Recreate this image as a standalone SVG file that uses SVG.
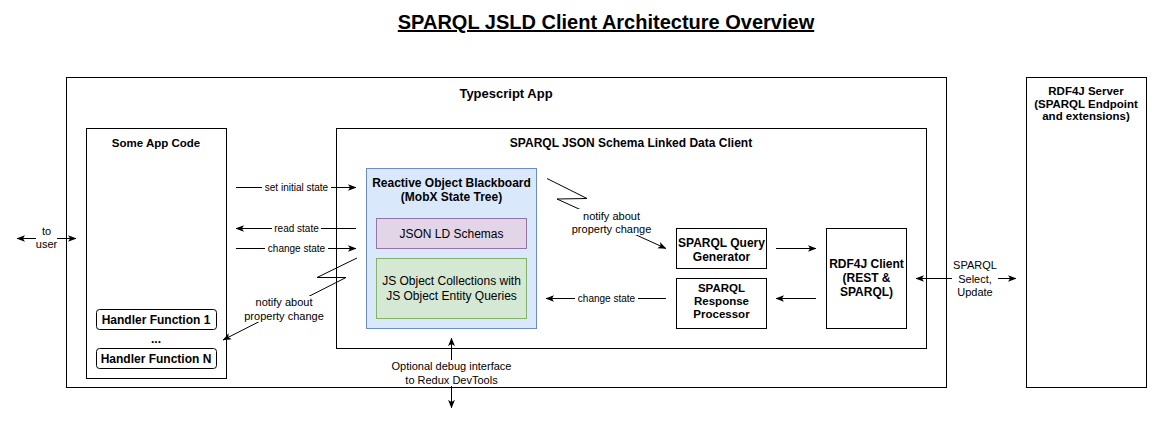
<svg xmlns="http://www.w3.org/2000/svg" width="1155" height="426" viewBox="0 0 1155 426">
<style>
text{font-family:"Liberation Sans",Arial,sans-serif;fill:#000;text-anchor:middle}
.b{font-weight:bold}
.box{fill:#fff;stroke:#000;stroke-width:1}
.ln{fill:none;stroke:#000;stroke-width:1}
.lb{fill:#fff;stroke:none}
.s10{font-size:10px}
.s11{font-size:11px}
.s115{font-size:11.5px}
.s12{font-size:12px}
</style>
<defs>
<marker id="ar" viewBox="0 0 10 10" refX="9.5" refY="5" markerWidth="8.5" markerHeight="8.5" markerUnits="userSpaceOnUse" orient="auto-start-reverse">
<path d="M0,1 L10,5 L0,9 L2.5,5 z" fill="#000"/>
</marker>
</defs>
<rect width="1155" height="426" fill="#fff"/>
<text x="606" y="29" class="b" style="font-size:20px;text-decoration:underline">SPARQL JSLD Client Architecture Overview</text>

<g id="typescript-app">
<rect class="box" x="66.5" y="77.5" width="880" height="310"/>
<text x="506" y="98" class="b" style="font-size:13px">Typescript App</text>
</g>
<g id="rdf4j-server">
<rect class="box" x="1026.5" y="77.5" width="120" height="310"/>
<text x="1086" y="95" class="b s115">RDF4J Server</text>
<text x="1086" y="107.5" class="b s115">(SPARQL Endpoint</text>
<text x="1086" y="120" class="b s115">and extensions)</text>
</g>
<g id="some-app-code">
<rect class="box" x="86.5" y="128.5" width="140" height="250"/>
<text x="156" y="146.5" class="b s115">Some App Code</text>
</g>
<g id="handler-1">
<rect class="box" x="96.5" y="309.5" width="120" height="20" rx="3"/>
<text x="156" y="323.5" class="b s12">Handler Function 1</text>
</g>
<g id="ellipsis">
<text x="156" y="343" class="b s12">...</text>
</g>
<g id="handler-n">
<rect class="box" x="96.5" y="348.5" width="120" height="20" rx="3"/>
<text x="156" y="362.5" class="b s12">Handler Function N</text>
</g>
<g id="sparql-client">
<rect class="box" x="336.5" y="128.5" width="590" height="220"/>
<text x="631" y="146.5" class="b s12">SPARQL JSON Schema Linked Data Client</text>
</g>
<g id="blackboard">
<rect x="366.5" y="168.5" width="170" height="160" fill="#dae8fc" stroke="#6c8ebf"/>
<text x="451.5" y="186.5" class="b s12">Reactive Object Blackboard</text>
<text x="451.5" y="200.5" class="b s12">(MobX State Tree)</text>
</g>
<g id="json-ld-schemas">
<rect x="376.5" y="218.5" width="150" height="30" fill="#e1d5e7" stroke="#9673a6"/>
<text x="451.5" y="237.5" class="s12">JSON LD Schemas</text>
</g>
<g id="js-object-collections">
<rect x="376.5" y="258.5" width="150" height="60" fill="#d5e8d4" stroke="#82b366"/>
<text x="451.5" y="285" class="s12">JS Object Collections with</text>
<text x="451.5" y="299.5" class="s12">JS Object Entity Queries</text>
</g>
<g id="query-generator">
<rect class="box" x="676.5" y="228.5" width="90" height="40"/>
<text x="721.5" y="246.5" class="b s12">SPARQL Query</text>
<text x="721.5" y="260.5" class="b s12">Generator</text>
</g>
<g id="response-processor">
<rect class="box" x="676.5" y="278.5" width="90" height="50"/>
<text x="721.5" y="291.5" class="b s115">SPARQL</text>
<text x="721.5" y="304.5" class="b s115">Response</text>
<text x="721.5" y="317.5" class="b s115">Processor</text>
</g>
<g id="rdf4j-client">
<rect class="box" x="826.5" y="228.5" width="80" height="100"/>
<text x="866.5" y="268" class="b s12">RDF4J Client</text>
<text x="866.5" y="282" class="b s12">(REST &amp;</text>
<text x="866.5" y="296" class="b s12">SPARQL)</text>
</g>

<g id="connectors">
<line class="ln" x1="17" y1="238.5" x2="76" y2="238.5" marker-start="url(#ar)" marker-end="url(#ar)"/>
<rect class="lb" x="36" y="225" width="21" height="27"/>
<text x="46.5" y="235" class="s11">to</text>
<text x="46.5" y="248" class="s11">user</text>

<line class="ln" x1="236" y1="187.5" x2="356" y2="187.5" marker-end="url(#ar)"/>
<rect class="lb" x="262" y="181" width="69" height="13"/>
<text x="296.5" y="191" class="s10">set initial state</text>

<line class="ln" x1="356" y1="228.5" x2="236" y2="228.5" marker-end="url(#ar)"/>
<rect class="lb" x="272" y="222" width="49" height="13"/>
<text x="296.5" y="232" class="s10">read state</text>

<line class="ln" x1="236" y1="248.5" x2="356" y2="248.5" marker-end="url(#ar)"/>
<rect class="lb" x="265" y="242" width="63" height="13"/>
<text x="296.5" y="252" class="s10">change state</text>

<polyline class="ln" points="357,258 317,277.5 346,277.5 223,340" marker-end="url(#ar)"/>
<rect class="lb" x="244" y="296" width="80" height="26"/>
<text x="284" y="306" class="s11">notify about</text>
<text x="284" y="320" class="s11">property change</text>

<polyline class="ln" points="547,178.5 587,198.5 557,199 666,248.5" marker-end="url(#ar)"/>
<rect class="lb" x="571" y="209" width="81" height="26"/>
<text x="611.5" y="219.5" class="s11">notify about</text>
<text x="611.5" y="233" class="s11">property change</text>

<line class="ln" x1="776" y1="248.5" x2="816" y2="248.5" marker-end="url(#ar)"/>
<line class="ln" x1="816" y1="298.5" x2="776" y2="298.5" marker-end="url(#ar)"/>

<line class="ln" x1="666" y1="298.5" x2="546" y2="298.5" marker-end="url(#ar)"/>
<rect class="lb" x="575" y="292" width="63" height="13"/>
<text x="606.5" y="302" class="s10">change state</text>

<line class="ln" x1="916" y1="278.5" x2="1016" y2="278.5" marker-start="url(#ar)" marker-end="url(#ar)"/>
<rect class="lb" x="952" y="258" width="46" height="40"/>
<text x="975" y="269" class="s11">SPARQL</text>
<text x="975" y="282.5" class="s11">Select,</text>
<text x="975" y="296" class="s11">Update</text>

<line class="ln" x1="451.5" y1="408" x2="451.5" y2="338" marker-start="url(#ar)" marker-end="url(#ar)"/>
<rect class="lb" x="390" y="360" width="123" height="26"/>
<text x="451.5" y="370" class="s11">Optional debug interface</text>
<text x="451.5" y="384" class="s11">to Redux DevTools</text>
</g>
</svg>
